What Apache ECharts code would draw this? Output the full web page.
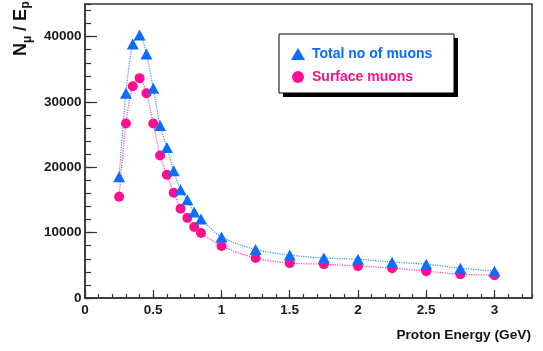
<!DOCTYPE html>
<html>
<head>
<meta charset="utf-8">
<script src="https://cdn.jsdelivr.net/npm/echarts@6/dist/echarts.min.js"></script>
<style>html,body{margin:0;padding:0;background:#fff;}#c{width:543px;height:351px;}</style>
</head>
<body>
<div id="c"></div>
<script>
const energies = [0.25,0.3,0.35,0.4,0.45,0.5,0.55,0.6,0.65,0.7,0.75,0.8,0.85,1.0,1.25,1.5,1.75,2.0,2.25,2.5,2.75,3.0];
const totalMuons = [18570,31340,38880,40260,37340,32110,26420,23030,19490,16570,15030,13180,12110,9340,7420,6580,6110,5950,5490,5180,4570,4110];
const surfaceMuons = [15490,26720,32420,33650,31340,26720,21800,18880,16110,13650,12260,10880,9950,7950,6110,5340,5180,4880,4570,4110,3650,3490];
const seriesNames = ['Total no of muons','Surface muons'];
const xTitle = 'Proton Energy (GeV)';

const BLUE = '#0d6cff';
const PINK = '#ff0f8f';
const FONT = '"Liberation Sans", Arial, sans-serif';
const XMAX = 3.275, YMAX = 45000;

const chart = echarts.init(document.getElementById('c'), null, {renderer:'canvas'});
const axisCol = '#333';
const rot = Math.PI / 2;
function tt(text, x, y, size) {
  return {type:'text', z:5, x:x, y:y, rotation:rot,
    style:{text:text, align:'left', verticalAlign:'middle', fill:'#111', fontFamily:FONT, fontWeight:'bold', fontSize:size}};
}
chart.setOption({
  animation: false,
  backgroundColor: '#fff',
  grid: {left: 85, right: 11, top: 4, bottom: 53, show: true, borderColor: axisCol, borderWidth: 1.5, backgroundColor: '#fff'},
  xAxis: [
    {type:'value', min:0, max:XMAX, interval:0.5, position:'bottom',
     axisLine:{show:true, lineStyle:{color:axisCol, width:1.5}},
     axisTick:{show:true, inside:true, length:8, lineStyle:{color:axisCol, width:1.2}},
     splitLine:{show:false},
     axisLabel:{show:true, showMaxLabel:false, margin:5, color:'#1a1a1a', fontFamily:FONT, fontWeight:'bold', fontSize:13.5,
       formatter: v => (Math.abs(v - Math.round(v*2)/2) < 1e-6) ? String(+v.toFixed(1)) : ''}},
    {type:'value', min:0, max:XMAX, interval:0.1, position:'bottom',
     axisLine:{show:false}, axisLabel:{show:false}, splitLine:{show:false},
     axisTick:{show:true, inside:true, length:4, lineStyle:{color:axisCol, width:1.2}}}
  ],
  yAxis: [
    {type:'value', min:0, max:YMAX, interval:10000, position:'left',
     axisLine:{show:true, lineStyle:{color:axisCol, width:1.5}},
     axisTick:{show:true, inside:true, length:12, lineStyle:{color:axisCol, width:1.2}},
     splitLine:{show:false},
     axisLabel:{show:true, showMaxLabel:false, margin:3.5, color:'#1a1a1a', fontFamily:FONT, fontWeight:'bold', fontSize:13.5,
       formatter: v => String(v)}},
    {type:'value', min:0, max:YMAX, interval:2000, position:'left',
     axisLine:{show:false}, axisLabel:{show:false}, splitLine:{show:false},
     axisTick:{show:true, inside:true, length:6, lineStyle:{color:axisCol, width:1.2}}}
  ],
  legend: {
    orient:'vertical', left: 286, top: 42, itemWidth: 14, itemHeight: 12, itemGap: 9, z: 10,
    textStyle:{fontFamily:FONT, fontWeight:'bold', fontSize:14, padding:[0,0,0,2]},
    data: [
      {name: seriesNames[0], icon:'triangle', textStyle:{color:BLUE}},
      {name: seriesNames[1], icon:'circle', textStyle:{color:PINK}}
    ]
  },
  graphic: [
    {type:'rect', z: 1, shape:{x:283, y:38, width:175, height:59}, style:{fill:'#000'}},
    {type:'rect', z: 2, shape:{x:279, y:34, width:175, height:59}, style:{fill:'#fff', stroke:'#000', lineWidth:1}},
    tt('N', 21, 56, 18),
    tt('μ', 28, 43, 12),
    tt(' / E', 21, 36, 18),
    tt('p', 26, 8.5, 12),
    {type:'text', z: 5, x: 531, y: 335,
     style:{text: xTitle, align:'right', verticalAlign:'middle', fill:'#111', fontFamily:FONT, fontWeight:'bold', fontSize:13.7}}
  ],
  series: [
    {name: seriesNames[0], type:'line', xAxisIndex:0, yAxisIndex:0, smooth:0.3,
     data: energies.map((e,i)=>[e,totalMuons[i]]),
     symbol:'triangle', symbolSize:[12,11], itemStyle:{color:BLUE},
     lineStyle:{color:BLUE, width:1.2, type:'dotted', opacity:0.8}, z:3},
    {name: seriesNames[1], type:'line', xAxisIndex:0, yAxisIndex:0, smooth:0.3,
     data: energies.map((e,i)=>[e,surfaceMuons[i]]),
     symbol:'circle', symbolSize:10, itemStyle:{color:PINK},
     lineStyle:{color:PINK, width:1.2, type:'dotted', opacity:0.8}, z:2}
  ]
});
</script>
</body>
</html>
